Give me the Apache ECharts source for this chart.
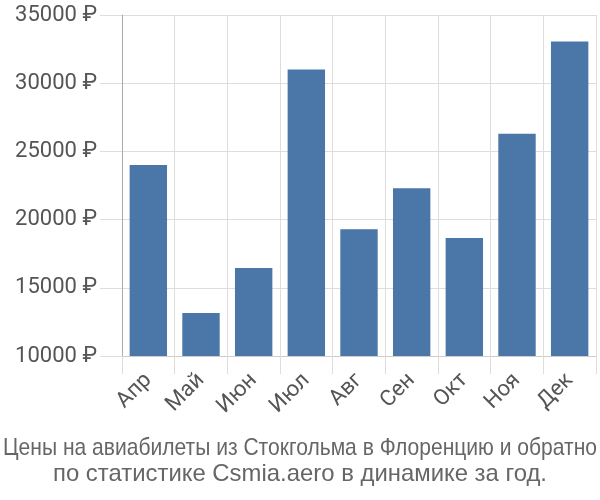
<!DOCTYPE html>
<html><head><meta charset="utf-8">
<script src="https://cdn.jsdelivr.net/npm/echarts@6/dist/echarts.min.js"></script>
<style>html,body{margin:0;padding:0;background:#fff}#c{width:600px;height:500px}</style>
</head><body><div id="c"></div>
<script>
const categories = ['Апр','Май','Июн','Июл','Авг','Сен','Окт','Ноя','Дек'];
const prices = [24000, 13150, 16450, 31000, 19300, 22300, 18650, 26300, 33050];
const yMin = 10000, yMax = 35000, yStep = 5000;
const titleLines = ['Цены на авиабилеты из Стокгольма в Флоренцию и обратно','по статистике Csmia.aero в динамике за год.'];

// condensed look for title (reference uses a narrow font)
const titleFont = '24px "Liberation Sans", Arial, sans-serif';
const titleWidths = [594, 494];
const titleY = [448, 474];
const ctx = document.createElement('canvas').getContext('2d');
ctx.font = titleFont;
const titleGraphics = titleLines.map((t, i) => ({
  type:'text', x:300, y:titleY[i],
  scaleX: titleWidths[i] / ctx.measureText(t).width,
  style:{text:t, font:titleFont, fill:'#666', align:'center', verticalAlign:'middle'}
}));

const chart = echarts.init(document.getElementById('c'), null, {renderer:'canvas'});
chart.setOption({
  animation:false,
  graphic: titleGraphics,
  grid:{left:122, right:4, top:15, bottom:144},
  xAxis:{
    type:'category', data:categories,
    axisLine:{lineStyle:{color:'#ccc'}},
    axisTick:{show:true, length:18, alignWithLabel:false, lineStyle:{color:'#ddd'}},
    splitLine:{show:true, lineStyle:{color:'#ddd'}},
    axisLabel:{rotate:45, margin:21, fontSize:22, color:'#555', fontFamily:'Roboto, sans-serif'}
  },
  yAxis:{
    type:'value', min:yMin, max:yMax, interval:yStep,
    axisLine:{show:true, lineStyle:{color:'#aaa'}},
    axisTick:{show:true, length:22, lineStyle:{color:'#ddd'}},
    splitLine:{show:true, lineStyle:{color:'#ddd'}},
    axisLabel:{margin:25, fontSize:22, color:'#555', fontFamily:'Roboto, sans-serif', formatter: v => v + ' ₽'}
  },
  series:[{type:'bar', data:prices, barCategoryGap:'29%', itemStyle:{color:'#4a76a8'}}]
});
</script></body></html>
